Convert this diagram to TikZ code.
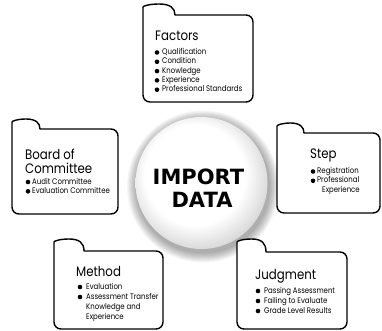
\documentclass[tikz,border=0pt]{standalone}
\usepackage{fontspec}
\setmainfont[FakeStretch=0.86]{Poppins}
\newfontfamily\heavyfont{DejaVu Sans}
\begin{document}
\begin{tikzpicture}[x=1pt,y=-1pt,
  folder/.style={draw=black,line width=1.4pt,fill=white,line join=round},
  itemtxt/.style={anchor=west,inner sep=0pt,text height=5.5pt,text depth=1.3pt,font=\fontsize{8.1}{9}\selectfont},
  titletxt/.style={anchor=base west,inner sep=0pt,font=\fontsize{13.7}{14}\selectfont},
  bigtxt/.style={anchor=base,inner sep=0pt,font=\heavyfont\bfseries\fontsize{21}{23}\selectfont}]
\useasboundingbox (0,0) rectangle (382,330);
\fill[white] (0,0) rectangle (382,330);
% folder: L R T M B W
\newcommand\folderbox[6]{%
  \draw[folder,rounded corners=7pt] ({#1+#6},#4) -- (#2,#4) -- (#2,#5) -- (#1,#5) -- (#1,{#3+10})
   [sharp corners] .. controls (#1,{#3+2}) and ({#1+0.2*#6},#3) .. ({#1+0.5*#6},#3)
   .. controls ({#1+0.85*#6},#3) and ({#1+#6},{#3+4}) .. ({#1+#6},#4) -- cycle;}
\newcommand\bitem[5]{\fill (#2,#4) circle[radius=2.3]; \node[itemtxt] (#1) at (#3,#4) {#5};}
% centre circle with shadow
\foreach \i in {1,...,10}{\fill[black,opacity=0.035] (203,186.5) circle[radius={66+\i}];}
\pgfdeclareradialshading{orb}{\pgfpoint{-4bp}{5bp}}{color(0bp)=(white); color(19bp)=(white); color(27bp)=(black!14); color(32bp)=(black!25); color(50bp)=(black!25)}
\shade[shading=orb] (201.5,183) circle[radius=66];
\node[bigtxt] (imp) at (198.5,184) {IMPORT};
\node[bigtxt] (dat) at (202,207) {DATA};
% Factors
\folderbox{143}{253}{4}{15}{102}{32}
\node[titletxt] (fac) at (155,40) {Factors};
\bitem{f1}{157}{162}{52.5}{Qualification}
\bitem{f2}{157}{162}{61.8}{Condition}
\bitem{f3}{157}{162}{71.1}{Knowledge}
\bitem{f4}{157}{162}{80.4}{Experience}
\bitem{f5}{157}{162}{89.7}{Professional Standards}
% Board of Committee
\folderbox{12}{118}{119}{129}{214}{28}
\node[titletxt] (boa) at (25,159) {Board of};
\node[titletxt] (com) at (25,173) {Committee};
\bitem{b1}{28}{32}{182}{Audit Committee}
\bitem{b2}{28}{32}{191.3}{Evaluation Committee}
% Step
\folderbox{277}{380}{123}{133}{213}{27}
\node[titletxt] (ste) at (310,158) {Step};
\bitem{s1}{313}{317}{171.5}{Registration}
\bitem{s2}{313}{317}{180.8}{Professional}
\node[itemtxt] (s3) at (322,190.1) {Experience};
% Method
\folderbox{54}{163}{239}{251}{329}{30}
\node[titletxt] (met) at (76,276) {Method};
\bitem{m1}{80}{86}{287}{Evaluation}
\bitem{m2}{80}{86}{297}{Assessment Transfer}
\node[itemtxt] (m3) at (86,307) {Knowledge and};
\node[itemtxt] (m4) at (86,317) {Experience};
% Judgment
\folderbox{237}{347}{239}{252}{329}{29}
\node[titletxt] (jud) at (255,279) {Judgment};
\bitem{j1}{258}{264}{291}{Passing Assessment}
\bitem{j2}{258}{264}{301}{Failing to Evaluate}
\bitem{j3}{258}{264}{311}{Grade Level Results}
\end{tikzpicture}
\end{document}
